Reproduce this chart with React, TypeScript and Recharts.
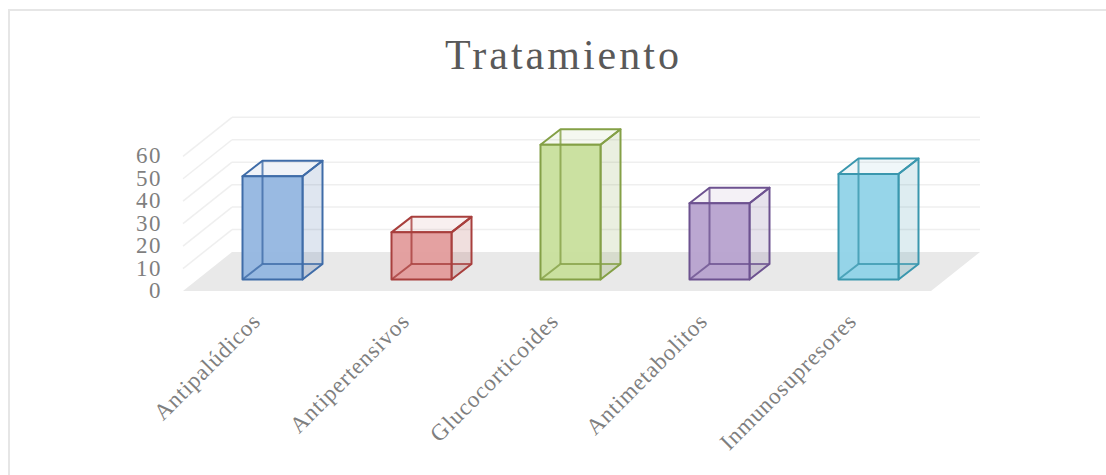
import React from 'react';
import { BarChart, Bar, XAxis, YAxis, CartesianGrid } from 'recharts';

const categories = ['Antipalúdicos', 'Antipertensivos', 'Glucocorticoides', 'Antimetabolitos', 'Inmunosupresores'];
const values = [46, 21, 60, 34, 47];
const yTicks = [0, 10, 20, 30, 40, 50, 60];

const fills = ['#94b6e0', '#e39c9c', '#c8df9c', '#b7a2cf', '#90d3e8'];
const strokes = ['#3f6ca8', '#a83f3d', '#84a046', '#6d5290', '#3a97ae'];

const data = categories.map((name, i) => ({ name, value: values[i] }));

const FONT = '"Liberation Serif", serif';
const TEXT_COLOR = '#7f7f7f';

// depth of one box, and of the whole floor
const BOX_DX = 20;
const BOX_DY = -15.5;
const WALL_LEFT = 232;
const WALL_RIGHT = 980;
const FLOOR_DX = -49;
const BACK_DY = -27.5;
const FRONT_DY = 11.5;
const BASELINE_Y = 279.5;

// one horizontal grid line with its side-wall run; the line at 0 draws the floor instead
const WallLine = (props: any) => {
  const y = props.y1;
  const backY = y + BACK_DY;
  const frontY = y + FRONT_DY;
  if (Math.abs(y - BASELINE_Y) < 1) {
    return (
      <polygon
        points={`${WALL_LEFT},${backY} ${WALL_RIGHT},${backY} ${WALL_RIGHT + FLOOR_DX},${frontY} ${WALL_LEFT + FLOOR_DX},${frontY}`}
        fill="#e9e9e9"
      />
    );
  }
  return (
    <g>
      <line x1={WALL_LEFT + FLOOR_DX} y1={frontY} x2={WALL_LEFT} y2={backY} stroke="#efefef" strokeWidth={1.5} />
      <line x1={WALL_LEFT} y1={backY} x2={WALL_RIGHT} y2={backY} stroke="#efefef" strokeWidth={1.5} />
    </g>
  );
};

// see-through box: back faces first, front face outline last
const Box = (props: any) => {
  const { x, y, width, height, index } = props;
  const fill = fills[index];
  const stroke = strokes[index];
  const right = x + width;
  const bottom = y + height;
  return (
    <g strokeWidth={2} stroke={stroke} strokeLinejoin="round">
      <polygon
        points={`${x},${bottom} ${right},${bottom} ${right + BOX_DX},${bottom + BOX_DY} ${x + BOX_DX},${bottom + BOX_DY}`}
        fill={stroke}
        fillOpacity={0.08}
        stroke="none"
      />
      <polygon
        points={`${right},${y} ${right + BOX_DX},${y + BOX_DY} ${right + BOX_DX},${bottom + BOX_DY} ${right},${bottom}`}
        fill={stroke}
        fillOpacity={0.17}
      />
      <polygon
        points={`${x},${y} ${x + BOX_DX},${y + BOX_DY} ${right + BOX_DX},${y + BOX_DY} ${right},${y}`}
        fill={stroke}
        fillOpacity={0.08}
      />
      <rect x={x} y={y} width={width} height={height} fill={fill} fillOpacity={0.95} stroke="none" />
      <g strokeOpacity={0.8}>
        <line x1={x + BOX_DX} y1={y + BOX_DY} x2={x + BOX_DX} y2={bottom + BOX_DY} />
        <line x1={x + BOX_DX} y1={bottom + BOX_DY} x2={right + BOX_DX} y2={bottom + BOX_DY} />
        <line x1={x} y1={bottom} x2={x + BOX_DX} y2={bottom + BOX_DY} />
      </g>
      <rect x={x} y={y} width={width} height={height} fill="none" />
    </g>
  );
};

const ValueTick = (props: any) => {
  const { y, payload } = props;
  return (
    <text
      x={162}
      y={y + FRONT_DY}
      dy={7}
      textAnchor="end"
      fontFamily={FONT}
      fontSize={23}
      letterSpacing={1.5}
      fill={TEXT_COLOR}
    >
      {payload.value}
    </text>
  );
};

const CategoryTick = (props: any) => {
  const { x, y, payload } = props;
  const tx = x - 10;
  const ty = y + 35;
  return (
    <text
      x={tx}
      y={ty}
      textAnchor="end"
      fontFamily={FONT}
      fontSize={23}
      letterSpacing={0.85}
      fill={TEXT_COLOR}
      transform={`rotate(-45 ${tx} ${ty})`}
    >
      {payload.value}
    </text>
  );
};

export default function App() {
  return (
    <div style={{ position: 'absolute', left: 0, top: 0, width: 1106, height: 475, background: '#fff' }}>
      <div
        style={{
          position: 'absolute',
          left: 8,
          top: 9,
          width: 1098,
          height: 466,
          borderTop: '2px solid #e6e6e6',
          borderLeft: '2px solid #e6e6e6',
          boxSizing: 'border-box',
        }}
      />
      <div
        style={{
          position: 'absolute',
          left: 0,
          top: 30,
          width: 1127,
          textAlign: 'center',
          fontFamily: FONT,
          fontSize: 42,
          letterSpacing: 3,
          lineHeight: '50px',
          color: '#595959',
        }}
      >
        Tratamiento
      </div>
      <BarChart
        width={1106}
        height={475}
        data={data}
        margin={{ top: 144.8, right: 163.5, bottom: 115.5, left: 167.5 }}
        style={{ position: 'absolute', left: 0, top: 0 }}
      >
        <CartesianGrid vertical={false} horizontal={(p: any) => <WallLine key={p.key} {...p} />} />
        <XAxis
          dataKey="name"
          axisLine={false}
          tickLine={false}
          interval={0}
          height={80}
          tick={<CategoryTick />}
        />
        <YAxis
          width={30}
          domain={[0, 60]}
          ticks={yTicks}
          interval={0}
          axisLine={false}
          tickLine={false}
          tick={<ValueTick />}
        />
        <Bar dataKey="value" barSize={60} isAnimationActive={false} shape={<Box />} />
      </BarChart>
    </div>
  );
}
